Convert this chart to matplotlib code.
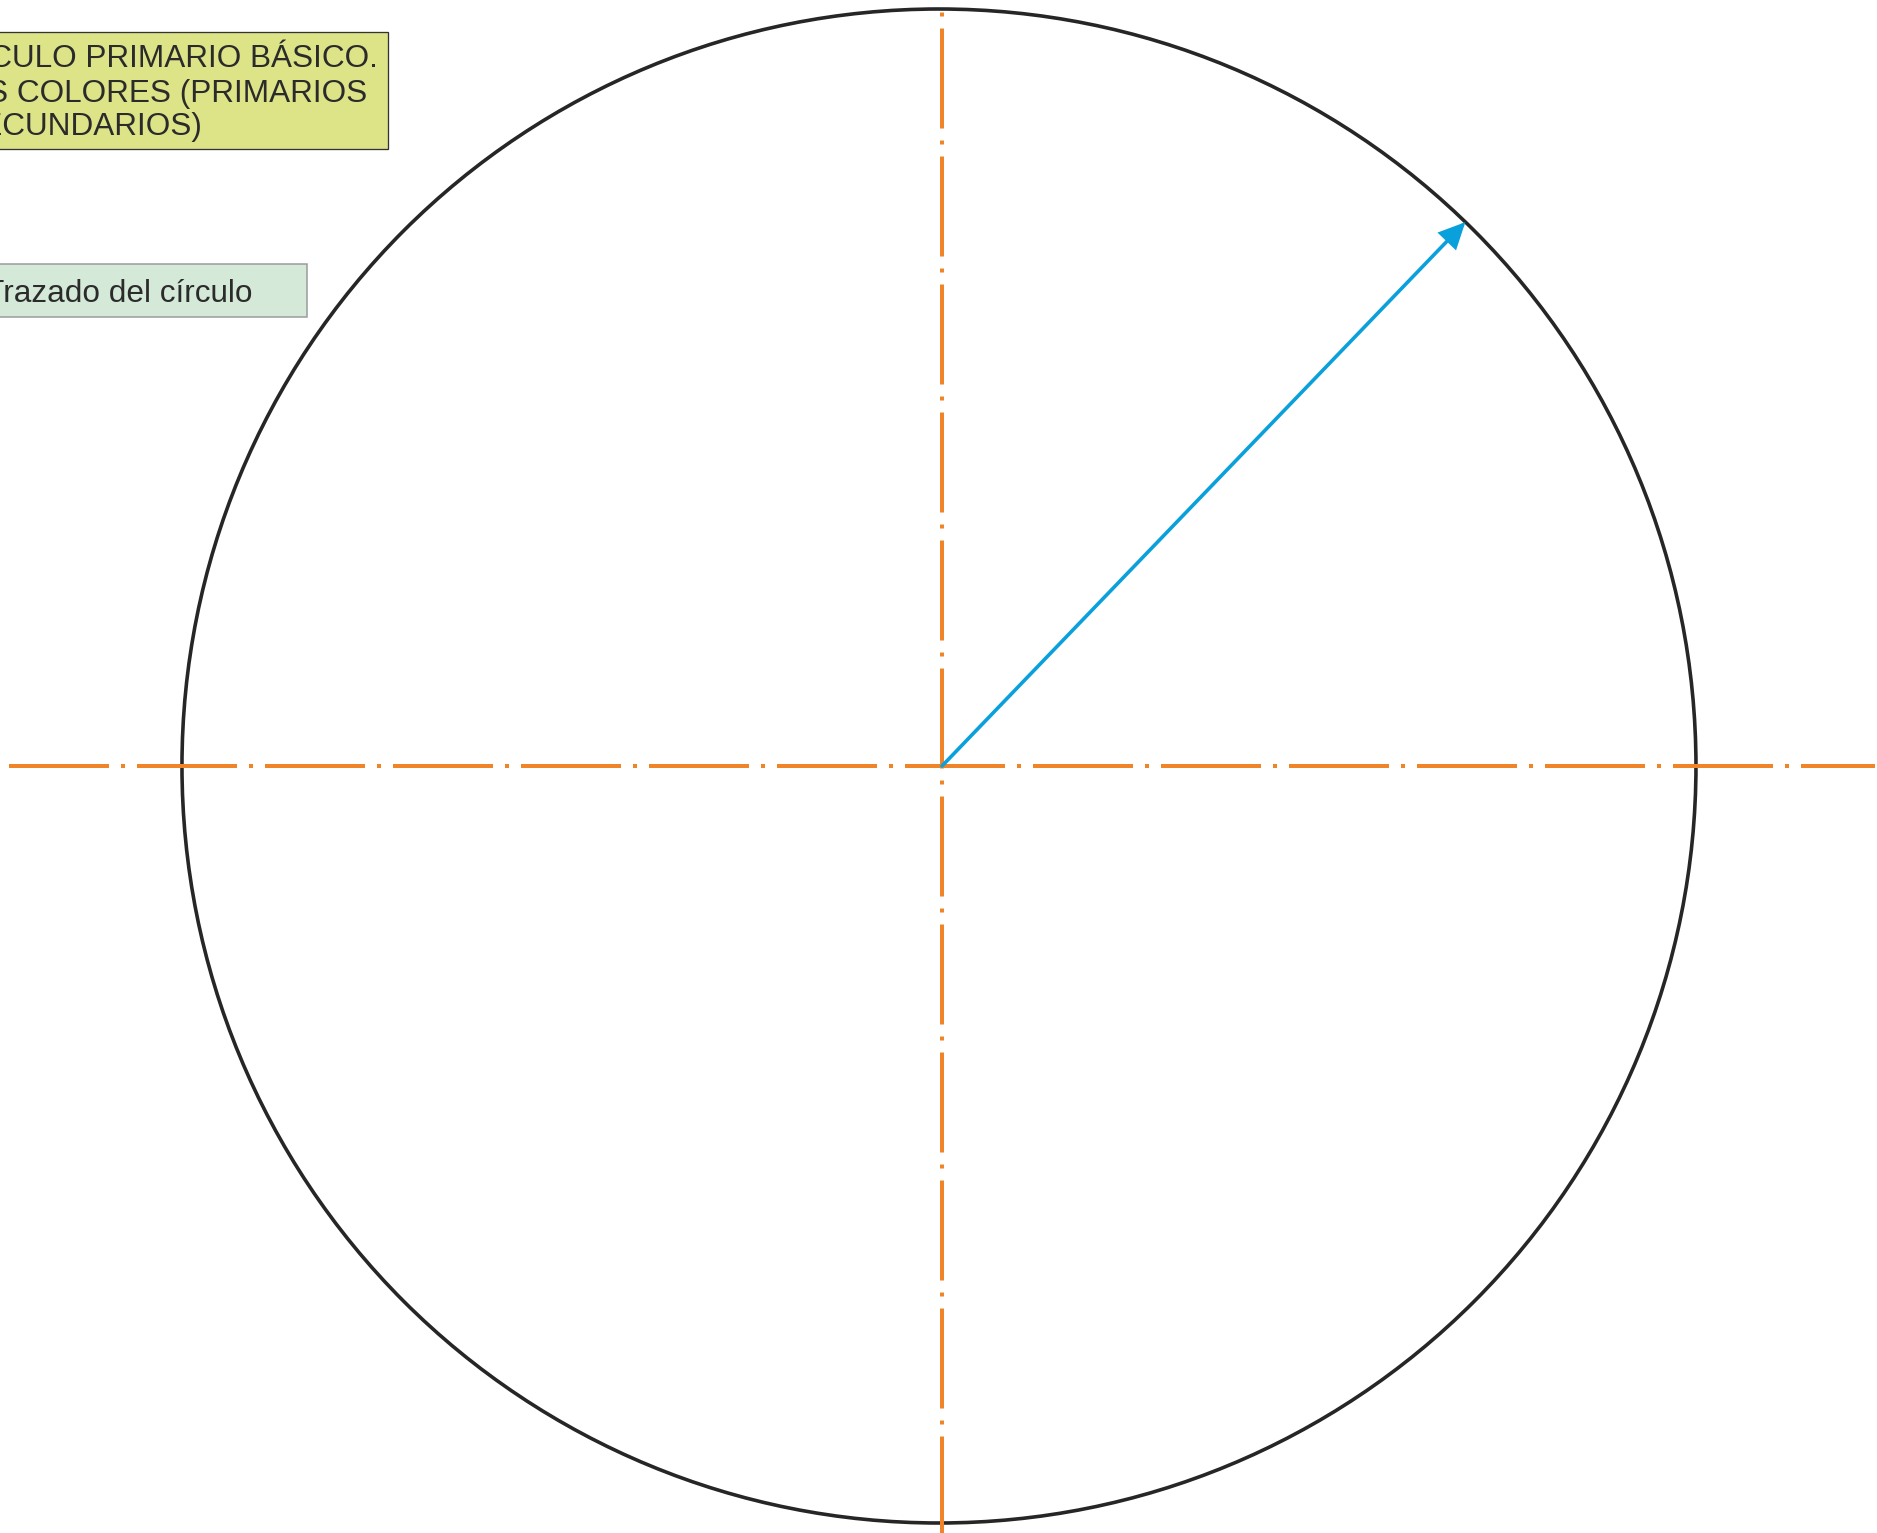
import numpy as np
import matplotlib
matplotlib.use("Agg")
import matplotlib.pyplot as plt
from matplotlib.patches import Circle, Rectangle, FancyArrowPatch, ArrowStyle
from matplotlib.transforms import Affine2D, IdentityTransform

# ---------------- data ----------------
AXES_ORIGIN = (0.0, 0.0)               # crossing of the two centre lines
CIRCLE_CENTER = (-0.004, 0.0)
RADIUS = 1.0
RADIUS_ANGLE_DEG = 46.1
RADIUS_LENGTH = 0.997
H_AXIS_EXTENT = (-1.2325, 1.2325)      # horizontal centre line, in radii
V_AXIS_EXTENT = (1.0112, -1.03)        # vertical centre line (drawn top -> bottom)
X_VIEW = (-1.24439, 1.23514)
Y_VIEW = (-1.01321, 1.01189)
TITLE_LINES = ["CÍRCULO PRIMARIO BÁSICO.", "LOS COLORES (PRIMARIOS", "Y SECUNDARIOS)"]
STEP_LABEL = "Trazado del círculo"

# ---------------- style ----------------
W, H, DPI = 1877, 1533, 100
ORANGE = "#EF8428"
BLUE = "#0AA0DC"
DARK = "#262626"
TEXT = "#2b2b2b"
BOX1_FILL = "#DDE387"
BOX2_FILL = "#D4E9D8"
PT = 72.0 / DPI  # points per pixel

plt.rcParams["lines.scale_dashes"] = False
plt.rcParams["font.family"] = ["Liberation Sans", "DejaVu Sans"]

fig = plt.figure(figsize=(W / DPI, H / DPI), dpi=DPI)
fig.patch.set_facecolor("white")
ax = fig.add_axes([0, 0, 1, 1])
ax.set_aspect("equal", adjustable="datalim")
ax.set_xlim(*X_VIEW)
ax.set_ylim(*Y_VIEW)
ax.axis("off")

# circle
circ = Circle(CIRCLE_CENTER, RADIUS, fill=False, edgecolor=DARK, lw=3.6 * PT, zorder=2)
ax.add_patch(circ)

# centre lines (dash-dot: long dash, gap, dot, gap) in points
pattern = (100 * PT, 12 * PT, 4 * PT, 12 * PT)
ax.plot([AXES_ORIGIN[0] + H_AXIS_EXTENT[0], AXES_ORIGIN[0] + H_AXIS_EXTENT[1]],
        [AXES_ORIGIN[1], AXES_ORIGIN[1]],
        color=ORANGE, lw=4 * PT, linestyle=(0, pattern),
        dash_capstyle="butt", zorder=3)
ax.plot([AXES_ORIGIN[0], AXES_ORIGIN[0]],
        [AXES_ORIGIN[1] + V_AXIS_EXTENT[0], AXES_ORIGIN[1] + V_AXIS_EXTENT[1]],
        color=ORANGE, lw=4 * PT, linestyle=(100.5 * PT, pattern),
        dash_capstyle="butt", zorder=3)

# radius arrow
ang = np.deg2rad(RADIUS_ANGLE_DEG)
tip = (AXES_ORIGIN[0] + RADIUS_LENGTH * np.cos(ang), AXES_ORIGIN[1] + RADIUS_LENGTH * np.sin(ang))
arrow = FancyArrowPatch(AXES_ORIGIN, tip,
                        arrowstyle=ArrowStyle("-|>", head_length=15, head_width=7.2),
                        mutation_scale=1, color=BLUE, lw=3.6 * PT,
                        shrinkA=0, shrinkB=0, joinstyle="miter", zorder=4)
ax.add_patch(arrow)

# ---------------- annotation boxes (image-pixel coords, y down) ----------------
pix = Affine2D().scale(1, -1).translate(0, H) + IdentityTransform()

fig.patches.append(Rectangle((-10, 32), 398, 117, transform=pix, facecolor=BOX1_FILL,
                             edgecolor="#333333", lw=1.3 * PT, zorder=5))
fig.patches.append(Rectangle((-10, 264), 317, 53, transform=pix, facecolor=BOX2_FILL,
                             edgecolor="#9a9a9a", lw=1.5 * PT, zorder=5))

FS = 31.5 * PT
for line, xb, yb in zip(TITLE_LINES, [-65, -55, -69], [66.7, 101.7, 135.5]):
    fig.text(xb, yb, line, transform=pix, fontsize=FS, color=TEXT,
             ha="left", va="baseline", zorder=6)
fig.text(-15, 302.5, STEP_LABEL, transform=pix, fontsize=FS, color=TEXT,
         ha="left", va="baseline", zorder=6)

fig.savefig("out.png", dpi=DPI, facecolor="white")
